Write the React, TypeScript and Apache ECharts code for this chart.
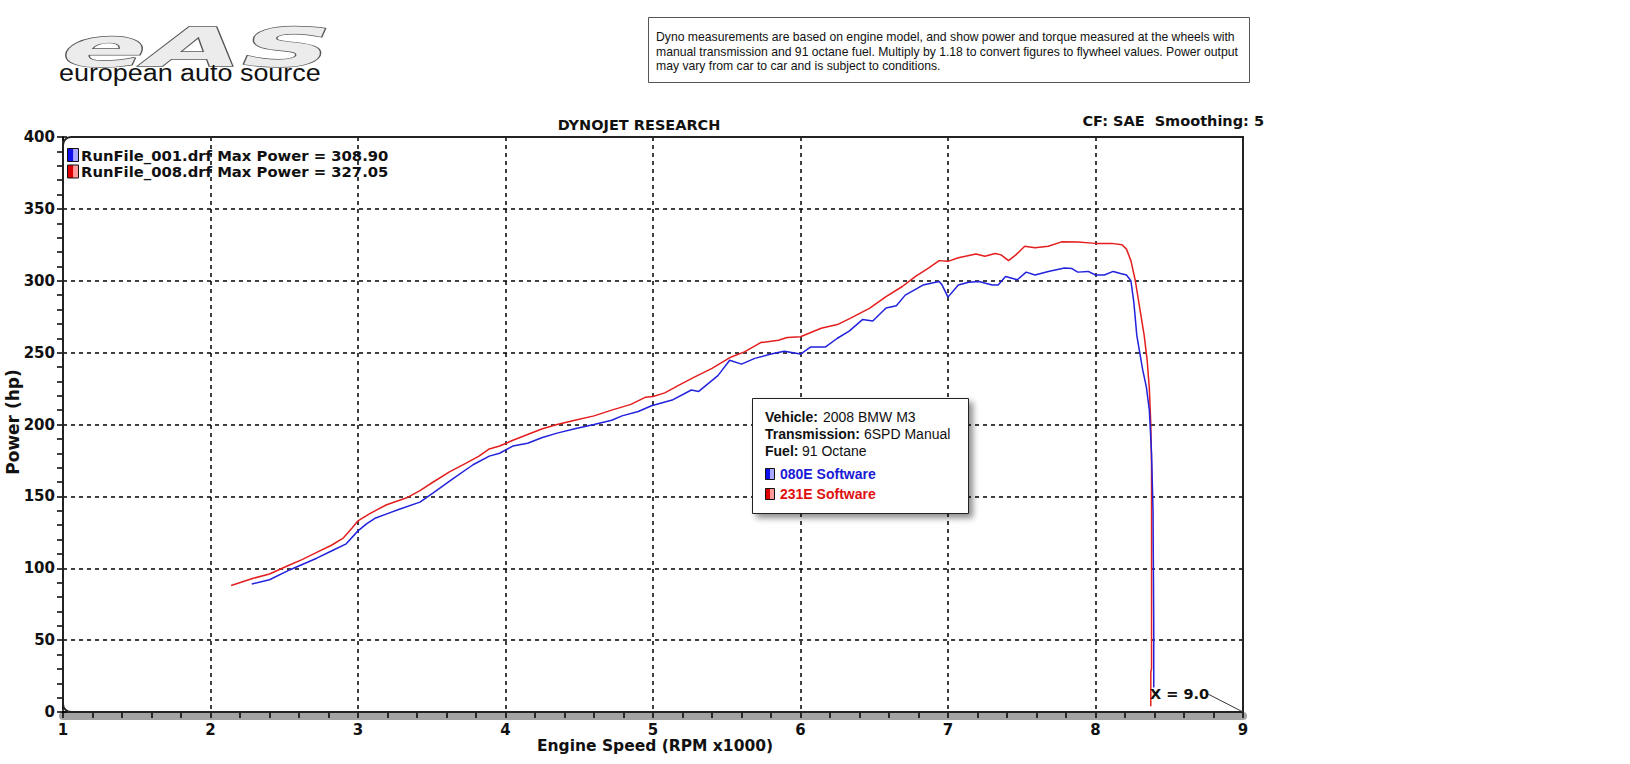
import React, { useEffect, useRef } from "react";
import * as echarts from "echarts";

// ---- data (x: engine speed in RPM x1000, y: power in hp) ----
const xMin = 1;
const xMax = 9;
const yMin = 0;
const yMax = 400;

const run001Rpm = [
  2.28, 2.4, 2.54, 2.63, 2.72, 2.82, 2.92, 3.0, 3.06, 3.12, 3.2, 3.28, 3.42, 3.51, 3.64, 3.78, 3.89, 3.96,
  4.05, 4.15, 4.25, 4.35, 4.47, 4.6, 4.72, 4.79, 4.9, 4.99, 5.13, 5.26, 5.31, 5.38, 5.44, 5.52, 5.6, 5.69,
  5.8, 5.89, 6.0, 6.07, 6.17, 6.25, 6.33, 6.42, 6.49, 6.58, 6.65, 6.71, 6.83, 6.94, 6.96, 7.0, 7.07, 7.14,
  7.21, 7.3, 7.34, 7.39, 7.47, 7.53, 7.59, 7.68, 7.79, 7.84, 7.88, 7.95, 8.0, 8.06, 8.12, 8.17, 8.21, 8.24,
  8.26, 8.28, 8.3, 8.32, 8.345, 8.365, 8.38, 8.39, 8.395, 8.395,
];
const run001Hp = [
  89, 92, 99, 103, 107, 112, 117, 126, 131, 135, 138, 141, 146, 152.5, 162, 172, 178, 180,
  185, 187, 191, 194, 197, 200, 203, 206, 209, 213, 217, 224, 223, 229, 234, 244.7, 242, 246,
  249, 251, 249, 254, 254, 260, 265, 273, 272, 281, 282.6, 290, 297, 299.5, 297, 288.6, 297, 299,
  299.5, 297, 297, 303, 300.7, 306, 304, 306.5, 308.9, 308.5, 306, 306.5, 304, 304, 306.5, 305, 304, 300,
  285, 262, 250, 238, 226, 210, 180, 140, 60, 17,
];

const run008Rpm = [
  2.14, 2.29, 2.4, 2.52, 2.62, 2.72, 2.82, 2.9, 2.96, 3.0, 3.08, 3.19, 3.33, 3.42, 3.51, 3.62, 3.73, 3.82,
  3.89, 3.96, 4.05, 4.15, 4.25, 4.35, 4.47, 4.6, 4.72, 4.85, 4.95, 5.0, 5.08, 5.17, 5.28, 5.4, 5.53, 5.62,
  5.73, 5.85, 5.91, 6.0, 6.07, 6.14, 6.25, 6.34, 6.47, 6.58, 6.69, 6.78, 6.87, 6.94, 7.0, 7.07, 7.19, 7.25,
  7.32, 7.36, 7.41, 7.46, 7.52, 7.59, 7.68, 7.77, 7.88, 8.0, 8.11, 8.18, 8.21, 8.24, 8.27, 8.3, 8.33, 8.35,
  8.365, 8.375, 8.38, 8.38, 8.375, 8.375,
];
const run008Hp = [
  88, 93, 96, 101.6, 106, 111, 116, 121, 128, 133, 138, 144, 149, 154, 160, 167, 173, 178,
  183, 185, 189, 193, 197, 200, 203, 206, 210, 214, 219, 219.5, 222, 227, 233, 239, 247, 250.5,
  257, 258.6, 260.5, 261, 264, 267, 269.5, 274, 281, 289, 296, 303, 309, 314, 313.5, 316, 318.6, 317,
  319, 318, 314, 318, 324, 323, 324, 327.05, 327, 326, 326, 325, 322, 314, 300, 281, 262, 245,
  225, 200, 170, 30, 28, 4,
];

const legendLabels = ["RunFile_001.drf Max Power = 308.90", "RunFile_008.drf Max Power = 327.05"];
const softwareLabels = ["080E Software", "231E Software"];
const infoRows = [
  ["Vehicle:", "2008 BMW M3"],
  ["Transmission:", "6SPD Manual"],
  ["Fuel:", "91 Octane"],
];
const noteLines = [
  "Dyno measurements are based on engine model, and show power and torque measured at the wheels with",
  "manual transmission and 91 octane fuel. Multiply by 1.18 to convert figures to flywheel values. Power output",
  "may vary from car to car and is subject to conditions.",
];
const titleText = "DYNOJET RESEARCH";
const cornerText = "CF: SAE  Smoothing: 5";
const xTitle = "Engine Speed (RPM x1000)";
const yTitle = "Power (hp)";
const cursorText = "X = 9.0";
const logoMark = "eAS";
const logoText = "european auto source";

const BLUE = "#2222dd";
const RED = "#e41e1e";

const pairs = (xs: number[], ys: number[]) => xs.map((x, i) => [x, ys[i]]);

// layout
const W = 1630;
const H = 764;
const G = { left: 63, top: 137, right: 1243, bottom: 712 };
const BOLD = '"DejaVu Sans", Verdana, sans-serif';
const ARIAL = '"Liberation Sans", Arial, sans-serif';

export default function App() {
  const ref = useRef<HTMLDivElement>(null);

  useEffect(() => {
    document.body.style.margin = "0";
    if (!ref.current) return;
    const chart = echarts.init(ref.current, undefined, { renderer: "svg" });

    const iconGrad = (dark: string, light: string) =>
      new echarts.graphic.LinearGradient(0, 0, 1, 0, [
        { offset: 0, color: dark },
        { offset: 0.5, color: dark },
        { offset: 0.55, color: light },
        { offset: 1, color: light },
      ]);

    const graphics: any[] = [];

    // logo
    graphics.push({
      type: "text",
      x: 62,
      y: 20,
      scaleX: 2.3,
      scaleY: 1.0,
      style: {
        text: logoMark,
        font: `italic bold 54px ${BOLD}`,
        fill: "#ececec",
        stroke: "#555",
        lineWidth: 1.3,
        shadowBlur: 3,
        shadowOffsetX: 2,
        shadowOffsetY: 2,
        shadowColor: "rgba(0,0,0,0.35)",
        textAlign: "left",
        textVerticalAlign: "top",
      },
    });
    graphics.push({
      type: "text",
      x: 59,
      y: 73,
      scaleX: 1.17,
      style: {
        text: logoText,
        font: `23px ${ARIAL}`,
        fill: "#111",
        textAlign: "left",
        textVerticalAlign: "middle",
      },
    });

    // note box
    graphics.push({
      type: "rect",
      shape: { x: 648.5, y: 17.5, width: 601, height: 65 },
      style: { fill: "#fff", stroke: "#555", lineWidth: 1 },
    });
    noteLines.forEach((t, i) => {
      graphics.push({
        type: "text",
        x: 656,
        y: 37 + i * 14.5,
        style: { text: t, font: `12.2px ${ARIAL}`, fill: "#111", textAlign: "left", textVerticalAlign: "middle" },
      });
    });

    // titles
    graphics.push({
      type: "text",
      x: 639,
      y: 125,
      style: { text: titleText, font: `bold 14.5px ${BOLD}`, fill: "#111", textAlign: "center", textVerticalAlign: "middle" },
    });
    graphics.push({
      type: "text",
      x: 1264,
      y: 121,
      style: { text: cornerText, font: `bold 14.5px ${BOLD}`, fill: "#111", textAlign: "right", textVerticalAlign: "middle" },
    });
    graphics.push({
      type: "text",
      x: 655,
      y: 746,
      style: { text: xTitle, font: `bold 15.5px ${BOLD}`, fill: "#111", textAlign: "center", textVerticalAlign: "middle" },
    });
    graphics.push({
      type: "text",
      x: 13,
      y: 422,
      rotation: Math.PI / 2,
      style: { text: yTitle, font: `bold 17px ${BOLD}`, fill: "#111", textAlign: "center", textVerticalAlign: "middle" },
    });

    // plot border
    graphics.push({
      type: "rect",
      z: 50,
      silent: true,
      shape: { x: G.left, y: G.top, width: G.right - G.left, height: G.bottom - G.top, r: [8, 0, 0, 8] },
      style: { fill: "none", stroke: "#222", lineWidth: 2 },
    });

    // in-plot legend
    legendLabels.forEach((t, i) => {
      const y = 155 + i * 16.5;
      graphics.push({
        type: "rect",
        z: 60,
        shape: { x: 67.5, y: y - 6.5, width: 11, height: 13 },
        style: {
          fill: i === 0 ? iconGrad("#1010ee", "#a8a8ff") : iconGrad("#dd0000", "#ff9a9a"),
          stroke: "#111",
          lineWidth: 1,
        },
      });
      graphics.push({
        type: "text",
        z: 60,
        x: 81,
        y,
        style: { text: t, font: `bold 14.8px ${BOLD}`, fill: "#111", textAlign: "left", textVerticalAlign: "middle" },
      });
    });

    // info box
    graphics.push({
      type: "rect",
      z: 70,
      shape: { x: 752.5, y: 398.5, width: 216, height: 115 },
      style: {
        fill: "#fff",
        stroke: "#222",
        lineWidth: 1,
        shadowBlur: 6,
        shadowOffsetX: 4,
        shadowOffsetY: 4,
        shadowColor: "rgba(0,0,0,0.45)",
      },
    });
    const valueX = [823, 864, 802];
    infoRows.forEach((row, i) => {
      const y = 417 + i * 17;
      graphics.push({
        type: "text",
        z: 71,
        x: 765,
        y,
        style: { text: row[0], font: `bold 14px ${ARIAL}`, fill: "#111", textAlign: "left", textVerticalAlign: "middle" },
      });
      graphics.push({
        type: "text",
        z: 71,
        x: valueX[i],
        y,
        style: { text: row[1], font: `14px ${ARIAL}`, fill: "#111", textAlign: "left", textVerticalAlign: "middle" },
      });
    });
    softwareLabels.forEach((t, i) => {
      const y = 474 + i * 20;
      graphics.push({
        type: "rect",
        z: 71,
        shape: { x: 765.5, y: y - 5.5, width: 9, height: 11 },
        style: {
          fill: i === 0 ? iconGrad("#1010ee", "#a8a8ff") : iconGrad("#dd0000", "#ff9a9a"),
          stroke: "#111",
          lineWidth: 1,
        },
      });
      graphics.push({
        type: "text",
        z: 71,
        x: 780,
        y,
        style: {
          text: t,
          font: `bold 14px ${ARIAL}`,
          fill: i === 0 ? "#1a1ad6" : "#e01010",
          textAlign: "left",
          textVerticalAlign: "middle",
        },
      });
    });

    // cursor annotation
    graphics.push({
      type: "text",
      z: 60,
      x: 1150,
      y: 694,
      style: { text: cursorText, font: `bold 14.5px ${BOLD}`, fill: "#111", textAlign: "left", textVerticalAlign: "middle" },
    });
    graphics.push({
      type: "line",
      z: 60,
      shape: { x1: 1208, y1: 694, x2: G.right, y2: G.bottom },
      style: { stroke: "#333", lineWidth: 1 },
    });

    const axisLabelStyle = { color: "#111", fontFamily: BOLD, fontWeight: "bold" as const, fontSize: 15 };
    const gridLine = { show: true, lineStyle: { color: "#000", type: [4, 4] as any, width: 1.5 } };

    chart.setOption({
      animation: false,
      backgroundColor: "#fff",
      grid: { left: G.left, top: G.top, width: G.right - G.left, height: G.bottom - G.top, containLabel: false },
      xAxis: [
        {
          type: "value",
          min: xMin,
          max: xMax,
          interval: 1,
          z: 3,
          axisLine: { show: true, onZero: false, lineStyle: { color: "#000", width: 1.5 } },
          axisTick: { show: true, length: 6, lineStyle: { color: "#000", width: 1.5 } },
          minorTick: { show: true, splitNumber: 5, length: 6, lineStyle: { color: "#000", width: 1.5 } },
          axisLabel: { ...axisLabelStyle, margin: 10 },
          splitLine: gridLine,
        },
        {
          type: "value",
          min: xMin,
          max: xMax,
          position: "bottom",
          offset: 4,
          z: 1,
          axisLine: { show: true, onZero: false, lineStyle: { color: "#a3a3a3", width: 8 } },
          axisTick: { show: false },
          axisLabel: { show: false },
          splitLine: { show: false },
        },
      ],
      yAxis: {
        type: "value",
        min: yMin,
        max: yMax,
        interval: 50,
        z: 3,
        axisLine: { show: true, onZero: false, lineStyle: { color: "#000", width: 1.5 } },
        axisTick: { show: true, length: 6, lineStyle: { color: "#000", width: 1.5 } },
        minorTick: { show: true, splitNumber: 5, length: 6, lineStyle: { color: "#000", width: 1.5 } },
        axisLabel: { ...axisLabelStyle, margin: 8 },
        splitLine: gridLine,
      },
      series: [
        {
          name: softwareLabels[0],
          type: "line",
          xAxisIndex: 0,
          showSymbol: false,
          symbol: "none",
          data: pairs(run001Rpm, run001Hp),
          lineStyle: { color: BLUE, width: 1.5 },
          z: 5,
        },
        {
          name: softwareLabels[1],
          type: "line",
          xAxisIndex: 0,
          showSymbol: false,
          symbol: "none",
          data: pairs(run008Rpm, run008Hp),
          lineStyle: { color: RED, width: 1.5 },
          z: 4,
        },
      ],
      graphic: { elements: graphics },
    });

    return () => chart.dispose();
  }, []);

  return <div ref={ref} style={{ width: W, height: H, background: "#fff" }} />;
}
